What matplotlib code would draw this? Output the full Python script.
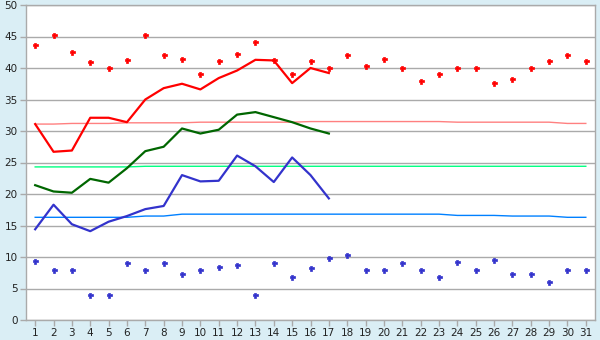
import matplotlib
matplotlib.use("Agg")
import matplotlib.pyplot as plt

days = list(range(1, 32))

# daily max / min observations (whole month)
high_obs = [43.6, 45.2, 42.5, 40.9, 40.0, 41.2, 45.2, 42.0, 41.5, 39.1,
            41.1, 42.3, 44.1, 41.2, 39.0, 41.1, 40.0, 42.0, 40.3, 41.4,
            40.0, 38.0, 39.0, 40.0, 40.0, 37.6, 38.2, 40.0, 41.1, 42.0, 41.1]
low_obs = [9.3, 7.9, 7.9, 3.9, 3.9, 9.0, 7.9, 9.0, 7.3, 7.9,
           8.4, 8.8, 3.9, 9.0, 6.9, 8.2, 9.8, 10.3, 8.0, 8.0,
           9.0, 7.9, 6.8, 9.2, 7.9, 9.5, 7.3, 7.3, 6.0, 7.9, 7.9]

# running lines, days 1-17
line_days = list(range(1, 18))
high_line = [31.1, 26.7, 26.9, 32.1, 32.1, 31.4, 35.0, 36.8, 37.5, 36.6,
             38.4, 39.6, 41.3, 41.2, 37.6, 40.0, 39.2]
mean_line = [21.4, 20.4, 20.2, 22.4, 21.8, 24.1, 26.8, 27.5, 30.4, 29.6,
             30.2, 32.6, 33.0, 32.2, 31.4, 30.4, 29.6]
low_line = [14.4, 18.3, 15.2, 14.1, 15.6, 16.5, 17.6, 18.1, 23.0, 22.0,
            22.1, 26.1, 24.4, 21.9, 25.8, 23.0, 19.3]

# normals
norm_high = [31.1, 31.1, 31.2, 31.2, 31.2, 31.3, 31.3, 31.3, 31.3, 31.4,
             31.4, 31.4, 31.4, 31.4, 31.4, 31.5, 31.5, 31.5, 31.5, 31.5,
             31.5, 31.5, 31.5, 31.4, 31.4, 31.4, 31.4, 31.4, 31.4, 31.2, 31.2]
norm_mean = [24.3, 24.3, 24.3, 24.3, 24.3, 24.3, 24.4, 24.4, 24.4, 24.4,
             24.4, 24.4, 24.4, 24.4, 24.4, 24.4, 24.4, 24.4, 24.4, 24.4,
             24.4, 24.4, 24.4, 24.4, 24.4, 24.4, 24.4, 24.4, 24.4, 24.4, 24.4]
norm_low = [16.3, 16.3, 16.3, 16.3, 16.3, 16.3, 16.5, 16.5, 16.8, 16.8,
            16.8, 16.8, 16.8, 16.8, 16.8, 16.8, 16.8, 16.8, 16.8, 16.8,
            16.8, 16.8, 16.8, 16.6, 16.6, 16.6, 16.5, 16.5, 16.5, 16.3, 16.3]

bg = "#DAEEF5"
grid_col = "#AAAAAA"

fig = plt.figure(figsize=(6, 3.4), dpi=100, facecolor=bg)
ax = fig.add_axes([26 / 600, 20 / 340, 569 / 600, 315 / 340])
ax.set_facecolor("white")

# normals (thin)
ax.plot(days, norm_high, color="#FF8080", lw=1.0, zorder=2)
ax.plot(days, norm_mean, color="#00FF80", lw=1.0, zorder=2)
ax.plot(days, norm_low, color="#0080FF", lw=1.0, zorder=2)

# running lines
ax.plot(line_days, high_line, color="#FF0000", lw=1.6, zorder=3)
ax.plot(line_days, mean_line, color="#006600", lw=1.6, zorder=3)
ax.plot(line_days, low_line, color="#3333CC", lw=1.6, zorder=3)

# daily extremes
ax.plot(days, high_obs, ls="none", marker="P", ms=3.6, color="#FF0000",
        mec="#FF0000", mew=0.5, zorder=4)
ax.plot(days, low_obs, ls="none", marker="P", ms=3.6, color="#3333CC",
        mec="#3333CC", mew=0.5, zorder=4)

ax.set_xlim(0.5, 31.5)
ax.set_ylim(0, 50)
ax.set_xticks(days)
ax.set_yticks(range(0, 51, 5))
ax.yaxis.grid(True, color=grid_col, lw=1.0)
ax.set_axisbelow(True)

for s in ax.spines.values():
    s.set_color(grid_col)
    s.set_linewidth(1.0)

ax.tick_params(axis="both", colors=grid_col, labelcolor="#222222",
               labelsize=7.5, length=4, width=1, pad=2)

fig.savefig("out.png", dpi=100, facecolor=bg)
